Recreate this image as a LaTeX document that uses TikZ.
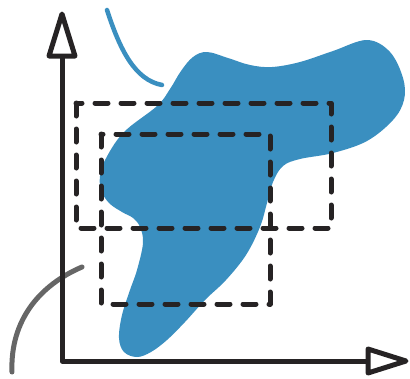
\documentclass[tikz,border=0pt]{standalone}
\usetikzlibrary{calc}
\definecolor{blobblue}{HTML}{3A8FC0}
\definecolor{inkdark}{HTML}{262324}
\definecolor{curvegray}{HTML}{666666}
\tikzset{
  axisline/.style={draw=inkdark, line width=5pt, line join=round, line cap=round},
  arrowtri/.style={draw=inkdark, fill=white, line width=5pt, line join=round},
  dashbox/.style={draw=inkdark, line width=5pt, line cap=round, line join=round, dash pattern=on 13pt off 13pt},
  bluecurve/.style={draw=blobblue, line width=4.5pt, line cap=round},
  graycurve/.style={draw=curvegray, line width=5pt, line cap=round},
}
\begin{document}
\begin{tikzpicture}[x=1pt,y=-1pt]
\useasboundingbox (0,0) rectangle (410,378);
% blob
\fill[blobblue] plot[smooth cycle, tension=0.6] coordinates {
 (207,52) (228,58) (250,65) (272,67) (300,62) (333,51) (367,40) (390,52) (403,78)
 (404,100) (393,120) (367,141) (333,153) (300,159) (283,166) (273,182) (267,203)
 (260,227) (246,255) (226,280) (205,300) (185,322) (167,340) (151,352) (137,357)
 (124,352) (119,338) (122,315) (130,290) (137,270) (143,243) (140,227) (133,218)
 (122,212) (109,203) (101,190) (100,176) (104,162) (123,133) (157,106) (170,89)
 (181,71) (193,57)};
% curves
\coordinate (b1) at (107,10);
\coordinate (b2) at (162,85);
\draw[bluecurve] (b1) .. controls (120,50) and (135,80) .. (b2);
\coordinate (g1) at (82,267);
\coordinate (g2) at (12,372);
\draw[graycurve] (g1) .. controls (40,285) and (10,320) .. (g2);
% dashed boxes
\coordinate (o1) at (76,103);
\coordinate (o2) at (331,228);
\coordinate (i1) at (101,134);
\coordinate (i2) at (270,304);
\draw[dashbox] (o1) rectangle (o2);
\draw[dashbox] (i1) rectangle (i2);
% axes
\coordinate (origin) at (62,361);
\coordinate (ytop) at (62,56);
\coordinate (xend) at (368,361);
\draw[axisline] (ytop) -- (origin) -- (xend);
\draw[arrowtri] (62,14) -- (49,56) -- (75,56) -- cycle;
\draw[arrowtri] (406,361) -- (368,349) -- (368,373) -- cycle;
\end{tikzpicture}
\end{document}
